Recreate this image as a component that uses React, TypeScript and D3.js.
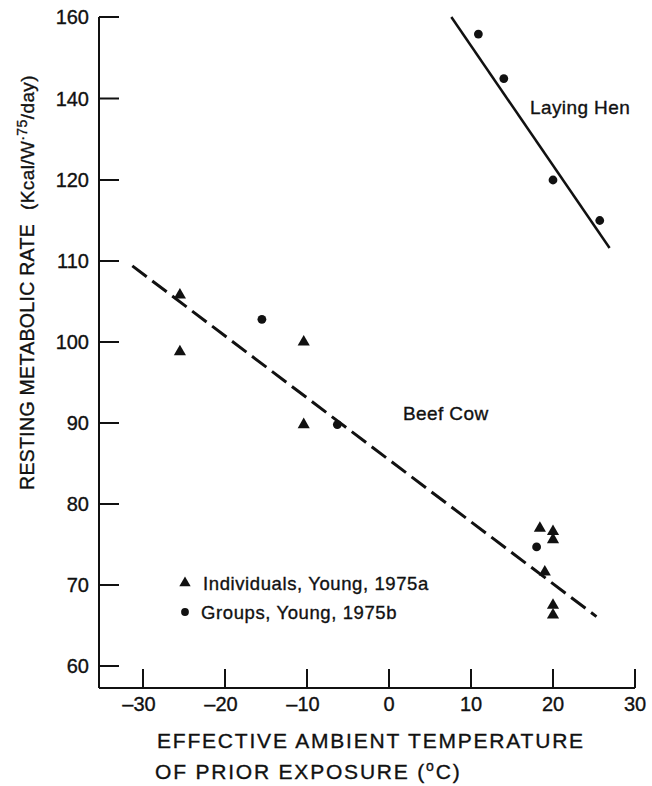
import React from 'react';
import * as d3 from 'd3';

// Tick values (the y scale is broken above 120)
const xTicks = [-30, -20, -10, 0, 10, 20, 30];
const yTicks = [60, 70, 80, 90, 100, 110, 120, 140, 160];

// Beef cow, individual animals (triangles)
const individualsTemp = [-25.5, -25.5, -10.4, -10.4, 18.4, 20, 20, 19, 20, 20];
const individualsRate = [105.8, 98.8, 100, 89.8, 77, 76.6, 75.6, 71.6, 67.5, 66.3];

// Beef cow, groups (circles)
const groupsTemp = [-15.5, -6.3, 18];
const groupsRate = [102.8, 89.8, 74.7];

// Laying hen (circles)
const henTemp = [10.9, 14, 20, 25.7];
const henRate = [155.8, 144.9, 120, 115];

// Fitted lines (end points)
const cowFitTemp = [-31.3, 25.3];
const cowFitRate = [109.4, 66.1];
const henFitTemp = [7.6, 26.9];
const henFitRate = [160, 111.6];

const W = 652;
const H = 786;
const FONT = '"Liberation Sans", Arial, Helvetica, sans-serif';
const INK = '#111';

export default function App() {
  const x = d3.scaleLinear().domain([-30, 30]).range([143, 635]);
  const y = d3.scaleLinear().domain([60, 120, 160]).range([666, 180, 17]);

  const axisX = 99;
  const axisY = 688;

  const tri = d3.symbol(d3.symbolTriangle, 64)()!;
  const triLegend = d3.symbol(d3.symbolTriangle, 56)()!;

  const line = d3
    .line<[number, number]>()
    .x((d) => x(d[0]))
    .y((d) => y(d[1]));

  const cowFit = line(cowFitTemp.map((t, i) => [t, cowFitRate[i]] as [number, number]))!;
  const henFit = line(henFitTemp.map((t, i) => [t, henFitRate[i]] as [number, number]))!;

  // slightly heavier text, like the printed lettering
  const textStyle = { fill: INK, stroke: INK, strokeWidth: 0.35 };

  return (
    <svg
      width={W}
      height={H}
      viewBox={`0 0 ${W} ${H}`}
      style={{ position: 'absolute', left: 0, top: 0, background: '#fff' }}
      fontFamily={FONT}
    >
      <rect width={W} height={H} fill="#fff" />

      {/* axes */}
      <g stroke={INK} strokeWidth={2} fill="none">
        <line x1={axisX} y1={y(160)} x2={axisX} y2={axisY} />
        <line x1={axisX} y1={axisY} x2={x(30)} y2={axisY} />
        {yTicks.map((t) => (
          <line key={`yt${t}`} x1={axisX} x2={axisX + 20} y1={y(t)} y2={y(t)} />
        ))}
        {xTicks.map((t) => (
          <line key={`xt${t}`} x1={x(t)} x2={x(t)} y1={axisY} y2={axisY - 19} />
        ))}
      </g>

      {/* tick labels */}
      <g {...textStyle} fontSize={20}>
        {yTicks.map((t) => (
          <text key={`yl${t}`} x={89} y={y(t) + 7} textAnchor="end">
            {t}
          </text>
        ))}
        {xTicks.map((t) => (
          <text key={`xl${t}`} x={x(t)} dx={t < 0 ? -4 : 0} y={711} textAnchor="middle">
            {t < 0 ? `\u2013${Math.abs(t)}` : t}
          </text>
        ))}
      </g>

      {/* axis titles */}
      <g {...textStyle} fontSize={21} letterSpacing={1.8}>
        <text x={157} y={748}>EFFECTIVE AMBIENT TEMPERATURE</text>
        <text x={155} y={779}>
          OF PRIOR EXPOSURE (
          <tspan fontSize={14} dy={-8}>o</tspan>
          <tspan dy={8}>C)</tspan>
        </text>
      </g>
      <g {...textStyle} transform="translate(34, 0)">
        <text transform={`translate(0, 224) rotate(-90)`} textAnchor="end" fontSize={19.5} letterSpacing={0.3}>
          RESTING METABOLIC RATE
        </text>
        <text transform={`translate(0, 210) rotate(-90)`} textAnchor="start" fontSize={19} letterSpacing={0.4}>
          (Kcal/W
          <tspan fontSize={14} dy={-7}>·75</tspan>
          <tspan dy={7}>/day)</tspan>
        </text>
      </g>

      {/* fitted lines */}
      <path d={cowFit} fill="none" stroke={INK} strokeWidth={3} strokeDasharray="18 7" />
      <path d={henFit} fill="none" stroke={INK} strokeWidth={2.5} />

      {/* points */}
      <g fill={INK}>
        {individualsTemp.map((t, i) => (
          <path key={`ind${i}`} d={tri} transform={`translate(${x(t)},${y(individualsRate[i])})`} />
        ))}
        {groupsTemp.map((t, i) => (
          <circle key={`grp${i}`} cx={x(t)} cy={y(groupsRate[i])} r={4.4} />
        ))}
        {henTemp.map((t, i) => (
          <circle key={`hen${i}`} cx={x(t)} cy={y(henRate[i])} r={4.4} />
        ))}
      </g>

      {/* line labels */}
      <g {...textStyle} fontSize={19}>
        <text x={530} y={114} letterSpacing={0.4}>Laying Hen</text>
        <text x={403} y={420} letterSpacing={0.4}>Beef Cow</text>
      </g>

      {/* legend */}
      <g fill={INK}>
        <path d={triLegend} transform="translate(185,583)" />
        <circle cx={185} cy={612} r={3.9} />
        <g {...textStyle} fontSize={18.5} letterSpacing={0.6}>
          <text x={203} y={589.5}>Individuals, Young, 1975a</text>
          <text x={201} y={618.5}>Groups, Young, 1975b</text>
        </g>
      </g>
    </svg>
  );
}
